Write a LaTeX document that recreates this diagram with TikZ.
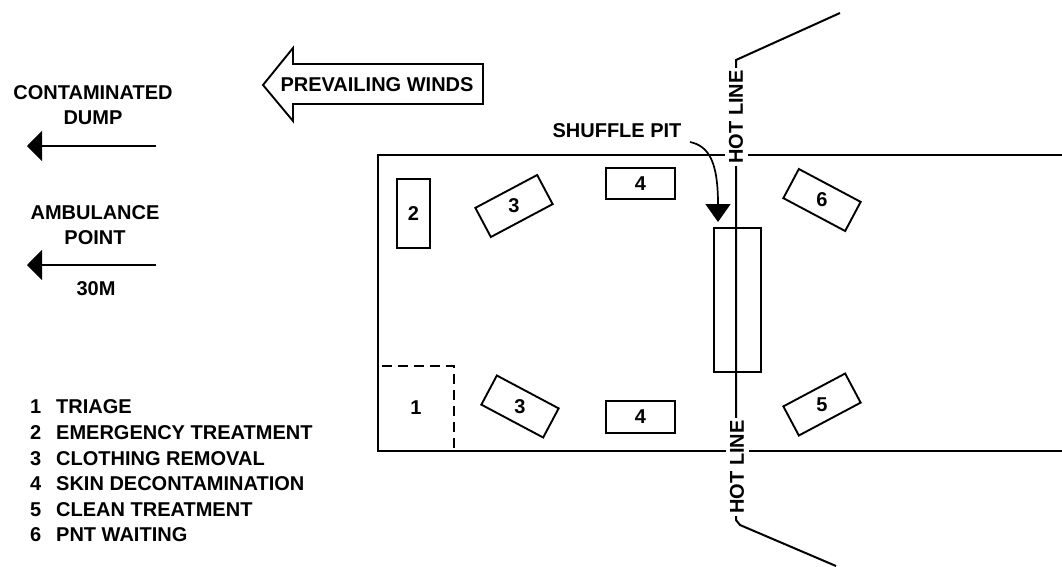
\documentclass[tikz,border=0pt]{standalone}
\usepackage{fontspec}
\setmainfont{Liberation Sans}
\usepackage{tikz}
\usetikzlibrary{
  arrows.meta,
  positioning
}
\tikzset{
  plan/.style={ font=\bfseries\fontsize{20}{23}\selectfont },
  station/.style={
    draw=black,
    line width=1.9pt,
    fill=white,
    inner sep=0pt,
    minimum width=#1,
    minimum height=33pt
  },
  stationtext/.style={
    inner sep=0pt
  },
  wall/.style={
    line width=1.7pt,
    draw=black
  },
  routearrow/.style={
    -{Triangle[length=15pt,width=30pt]},
    line width=1.7pt,
    draw=black
  },
  caption/.style={
    align=center,
    inner sep=0pt
  },
  hotlabel/.style={
    rotate=90,
    fill=white,
    inner sep=2pt,
    minimum height=23pt
  },
  legenditem/.style={
    anchor=west,
    inner sep=0pt,
    minimum height=25.2pt
  }
}

\begin{document}
\begin{tikzpicture}[plan, x=1pt, y=-1pt]
  \useasboundingbox (0,0) rectangle (1062,566);

  % decontamination line outline
  \draw[wall] (1062,155) -- (378,155) -- (378,451) -- (1062,451);
  \draw[wall, dash pattern=on 10pt off 6pt, line width=2.7pt]
    (382,366) -- (454,366) -- (454,451);

  % hot line
  \coordinate (hottop) at (840,13);
  \coordinate (hotbend) at (736,60);
  \coordinate (hotbottom) at (836,566);
  \coordinate (hotfoot) at (740,525);
  \draw[wall, line width=2pt] (hottop) -- (hotbend) -- (736,520) -- (hotfoot) -- (hotbottom);
  \node[hotlabel] (hotlineA) at (736,117) {HOT LINE};
  \node[hotlabel] (hotlineB) at (737,467) {HOT LINE};

  % shuffle pit
  \node[draw=black, line width=1.9pt, minimum width=47pt, minimum height=144pt,
    inner sep=0pt] (pit) at (737.5,300) {};
  \draw[wall, line width=2pt] (pit.north -| hotbend) -- (pit.south -| hotbend);
  \node[inner sep=0pt] (pitlabel) at (617,131) {SHUFFLE PIT};
  \coordinate (pitstart) at (690,142);
  \draw[-{Triangle[length=18pt,width=25pt]}, line width=1.7pt]
    (pitstart) .. controls (708,146) and (718,160) .. (718,222);

  % stations
  \node[station=69pt, rotate=90] (emergency) at (413.5,213.5) {};
  \node[stationtext] at (emergency.center) {2};
  \node[station=70pt, rotate=28] (removalA) at (514,206) {};
  \node[stationtext] at (removalA.center) {3};
  \node[station=70pt, rotate=-28] (removalB) at (520,406.5) {};
  \node[stationtext] at (removalB.center) {3};
  \node[station=69pt, minimum height=31pt] (skinA) at (640.5,183.5) {4};
  \node[station=69pt, minimum height=32pt] (skinB) at (640.5,417) {4};
  \node[station=70pt, rotate=28] (cleanA) at (822,404.5) {};
  \node[stationtext] at (cleanA.center) {5};
  \node[station=70pt, rotate=-28] (waiting) at (822,200) {};
  \node[stationtext] at (waiting.center) {6};
  \node[stationtext] (triage) at (416,408) {1};

  % winds
  \draw[line width=1.9pt, fill=white] (263,85) -- (293,48) -- (293,64) -- (483,64)
    -- (483,104) -- (293,104) -- (293,121) -- cycle;
  \node[inner sep=0pt] (winds) at (377,85) {PREVAILING WINDS};

  % left side routes
  \node[caption] (dump) at (93,105.5) {CONTAMINATED\\[2pt]DUMP};
  \coordinate (dumpend) at (27,146);
  \coordinate (dumpstart) at (156,146);
  \draw[routearrow] (dumpstart) -- (dumpend);
  \node[caption] (ambulance) at (95,225.5) {AMBULANCE\\[2pt]POINT};
  \coordinate (ambulanceend) at (27,265);
  \coordinate (ambulancestart) at (156,265);
  \draw[routearrow] (ambulancestart) -- (ambulanceend);
  \node[inner sep=0pt] (distance) at (96,289) {30M};

  % legend
  \node[legenditem] (legendA) at (30,407) {\makebox[26pt][l]{1}TRIAGE};
  \node[legenditem, below=0pt of legendA.south west, anchor=north west] (legendB) {\makebox[26pt][l]{2}EMERGENCY TREATMENT};
  \node[legenditem, below=0pt of legendB.south west, anchor=north west] (legendC) {\makebox[26pt][l]{3}CLOTHING REMOVAL};
  \node[legenditem, below=0pt of legendC.south west, anchor=north west] (legendD) {\makebox[26pt][l]{4}SKIN DECONTAMINATION};
  \node[legenditem, below=0pt of legendD.south west, anchor=north west] (legendE) {\makebox[26pt][l]{5}CLEAN TREATMENT};
  \node[legenditem, below=0pt of legendE.south west, anchor=north west] (legendF) {\makebox[26pt][l]{6}PNT WAITING};
\end{tikzpicture}
\end{document}
